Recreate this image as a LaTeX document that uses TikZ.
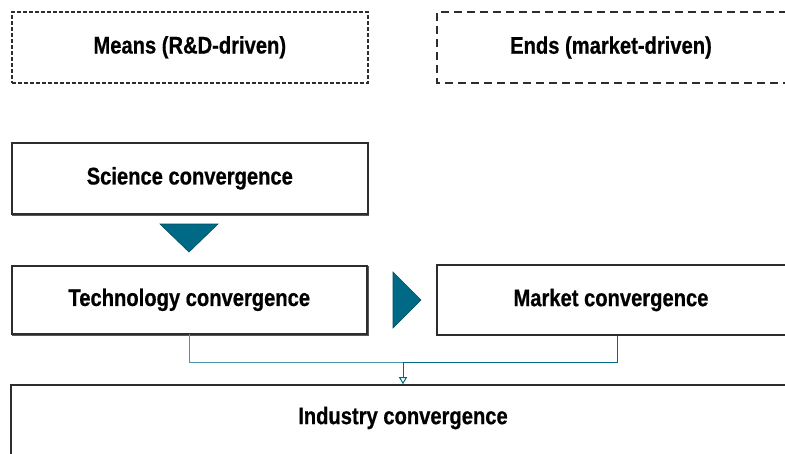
\documentclass[tikz,border=0pt]{standalone}
\usepackage{fontspec}
\setmainfont{Liberation Sans}[FakeStretch=0.84, FakeBold=0.6]
\usetikzlibrary{arrows.meta}
\definecolor{teal1}{RGB}{0,106,134}
\definecolor{teal2}{RGB}{70,150,170}
\definecolor{edge}{RGB}{45,45,45}
\newcommand{\lbl}{\bfseries\fontsize{24}{28}\selectfont}
\tikzset{
  box/.style={draw=edge, line width=1.6pt, fill=white, inner sep=0pt, anchor=north west},
  dbox/.style={box, dashed},
  shade/.style={draw=edge!80, line width=1.6pt},
  txt/.style={font=\lbl, inner sep=0pt},
  conn/.style={draw=teal1, line width=1pt},
  tri/.style={fill=teal1, draw=teal1!70!black, line width=0.6pt}
}
\begin{document}
\begin{tikzpicture}[x=1pt,y=-1pt]
\useasboundingbox (0,0) rectangle (785,453);
% header boxes
\node[dbox, dash pattern=on 4pt off 2pt, minimum width=356pt, minimum height=71pt] (means) at (11,11) {};
\node[txt] at (means.center) {Means (R\&D-driven)};
\draw[edge, line width=1.6pt, dash pattern=on 8pt off 5pt] (800,12) -- (437,12) -- (437,83) -- (800,83);
\node[txt] (ends) at (611,47.5) {Ends (market-driven)};
% science
\draw[shade] (12,215) -- (368,215) -- (368,143);
\node[box, minimum width=356pt, minimum height=71pt] (sci) at (11,142) {};
\node[txt] at (sci.center) {Science convergence};
\fill[tri] (160,224) -- (218,224) -- (189,252) -- cycle;
% technology
\draw[shade] (12,335) -- (368,335) -- (368,266);
\node[box, minimum width=355pt, minimum height=68pt] (tech) at (11,265) {};
\node[txt] at (tech.center) {Technology convergence};
\fill[tri] (393,272) -- (421,300) -- (393,328) -- cycle;
% market
\draw[edge, line width=1.6pt, fill=white] (800,265) -- (437,265) -- (437,335) -- (800,335);
\node[txt] (mkt) at (611,300) {Market convergence};
\coordinate (mktb) at (617,335.8);
% industry
\draw[edge, line width=1.6pt, fill=white] (800,385) -- (11,385) -- (11,460);
\coordinate (indtop) at (403,384.2);
\node[txt] (ind) at (403,418) {Industry convergence};
% connectors
\coordinate (techb) at (189,333.8);
\coordinate (j) at (403,362);
\draw[draw=teal2, line width=1pt] (techb) -- (189,362) -- (j);
\draw[conn] (j) -- (617,362) -- (mktb);
\draw[conn, -{Triangle[length=7pt,width=8pt,open]}] (j) -- (indtop);
\end{tikzpicture}
\end{document}
